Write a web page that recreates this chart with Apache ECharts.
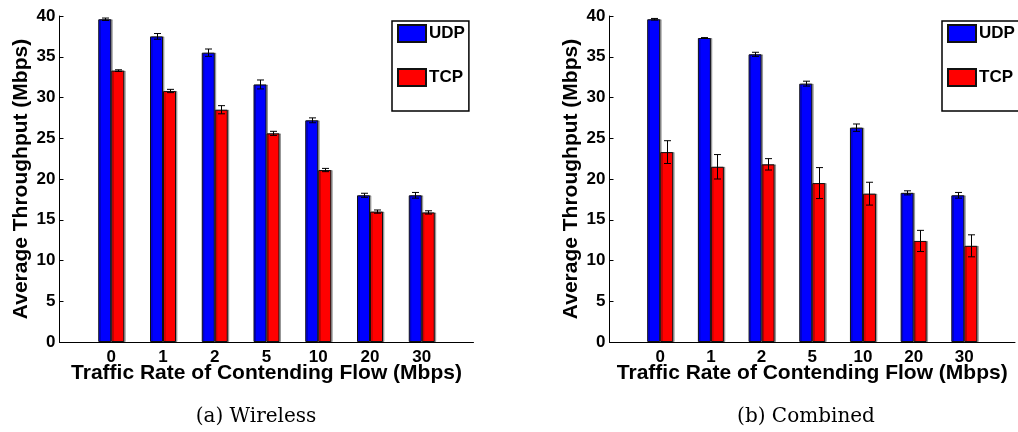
<!DOCTYPE html>
<html><head><meta charset="utf-8">
<script src="https://cdn.jsdelivr.net/npm/echarts@6/dist/echarts.min.js"></script>
<style>html,body{margin:0;padding:0;background:#fff}#c{width:1018px;height:432px}</style>
</head><body><div id="c"></div>
<script>
const categories = ['0','1','2','5','10','20','30'];
const wirelessUDP    = [39.6, 37.5, 35.5, 31.6, 27.2, 18.0, 18.0];
const wirelessUDPErr = [0.15, 0.35, 0.45, 0.55, 0.3, 0.25, 0.35];
const wirelessTCP    = [33.3, 30.8, 28.5, 25.6, 21.1, 16.0, 15.9];
const wirelessTCPErr = [0.1, 0.2, 0.5, 0.25, 0.2, 0.2, 0.2];
const combinedUDP    = [39.6, 37.3, 35.3, 31.7, 26.3, 18.3, 18.0];
const combinedUDPErr = [0.1, 0.05, 0.25, 0.3, 0.45, 0.25, 0.35];
const combinedTCP    = [23.3, 21.5, 21.8, 19.5, 18.2, 12.4, 11.8];
const combinedTCPErr = [1.4, 1.5, 0.7, 1.9, 1.4, 1.3, 1.35];
const yMin = 0, yMax = 40, yStep = 5;
const xTitle = 'Traffic Rate of Contending Flow (Mbps)';
const yTitle = 'Average Throughput (Mbps)';
const captions = ['(a) Wireless', '(b) Combined'];

const FONT = 'Liberation Sans, Arial, sans-serif';
const axisCats = [''].concat(categories, ['']);
const BW = 13;

function errItem(offset) {
  return function (params, api) {
    const x = api.value(0), v = api.value(1), e = api.value(2);
    const lo = api.coord([x, v - e]), hi = api.coord([x, v + e]);
    const cx = Math.round(lo[0] + offset) + 0.5, w = 3.5;
    const st = {stroke: '#000', lineWidth: 1};
    return {type: 'group', children: [
      {type: 'line', shape: {x1: cx, y1: hi[1], x2: cx, y2: lo[1]}, style: st},
      {type: 'line', shape: {x1: cx - w, y1: hi[1], x2: cx + w, y2: hi[1]}, style: st},
      {type: 'line', shape: {x1: cx - w, y1: lo[1], x2: cx + w, y2: lo[1]}, style: st}
    ]};
  };
}

const grids = [], xAxes = [], yAxes = [], series = [], legends = [];
const sets = [
  {udp: wirelessUDP, udpE: wirelessUDPErr, tcp: wirelessTCP, tcpE: wirelessTCPErr, left: 59.5, legLeft: 392},
  {udp: combinedUDP, udpE: combinedUDPErr, tcp: combinedTCP, tcpE: combinedTCPErr, left: 609.5, legLeft: 942}
];
sets.forEach((s, k) => {
  grids.push({left: s.left, top: 16, width: 414, height: 326});
  xAxes.push({
    type: 'category', gridIndex: k, data: axisCats, boundaryGap: false,
    axisLine: {lineStyle: {color: '#000', width: 1}},
    axisTick: {show: false},
    axisLabel: {interval: 0, margin: 7, color: '#000', fontFamily: FONT, fontWeight: 'bold', fontSize: 17},
    name: xTitle, nameLocation: 'middle', nameGap: 21, nameMoveOverlap: false,
    nameTextStyle: {color: '#000', fontFamily: FONT, fontWeight: 'bold', fontSize: 21}
  });
  yAxes.push({
    type: 'value', gridIndex: k, min: yMin, max: yMax, interval: yStep,
    axisLine: {show: true, lineStyle: {color: '#000', width: 1}},
    axisTick: {show: true, inside: true, length: 4, lineStyle: {color: '#000'}},
    splitLine: {show: false},
    axisLabel: {margin: 4, color: '#000', fontFamily: FONT, fontWeight: 'bold', fontSize: 17},
    name: yTitle, nameLocation: 'middle', nameGap: 28, nameMoveOverlap: false,
    nameTextStyle: {color: '#000', fontFamily: FONT, fontWeight: 'bold', fontSize: 21}
  });
  const barStyle = (c) => ({color: c, borderColor: '#111', borderWidth: 1,
    shadowColor: 'rgba(0,0,0,0.3)', shadowOffsetX: 1.5, shadowOffsetY: 0, shadowBlur: 0});
  series.push({
    name: 'UDP', type: 'bar', xAxisIndex: k, yAxisIndex: k, barWidth: BW, barGap: '0%',
    itemStyle: barStyle('#0000FF'), data: s.udp.map((v, i) => [i + 1, v])
  });
  series.push({
    name: 'TCP', type: 'bar', xAxisIndex: k, yAxisIndex: k, barWidth: BW, barGap: '0%',
    itemStyle: barStyle('#FF0000'), data: s.tcp.map((v, i) => [i + 1, v])
  });
  series.push({
    type: 'custom', xAxisIndex: k, yAxisIndex: k, z: 5, renderItem: errItem(-BW / 2),
    encode: {x: 0, y: 1}, data: s.udp.map((v, i) => [i + 1, v, s.udpE[i]])
  });
  series.push({
    type: 'custom', xAxisIndex: k, yAxisIndex: k, z: 5, renderItem: errItem(BW / 2),
    encode: {x: 0, y: 1}, data: s.tcp.map((v, i) => [i + 1, v, s.tcpE[i]])
  });
  legends.push({
    left: s.legLeft, top: 21, orient: 'vertical', data: ['UDP', 'TCP'],
    itemWidth: 28, itemHeight: 17, itemGap: 25, icon: 'rect',
    padding: [3, 4, 24, 5], borderColor: '#000', borderWidth: 1.5, backgroundColor: '#fff',
    textStyle: {color: '#000', fontFamily: FONT, fontWeight: 'bold', fontSize: 17, padding: [0, 0, 0, -2]},
    selectedMode: false
  });
});

const chart = echarts.init(document.getElementById('c'), null, {renderer: 'canvas'});
chart.setOption({
  animation: false,
  backgroundColor: '#fff',
  grid: grids, xAxis: xAxes, yAxis: yAxes, series: series, legend: legends,
  graphic: [
    {type: 'text', x: 256, y: 417, style: {text: captions[0], fill: '#000', font: '20px "DejaVu Serif", serif', textAlign: 'center', textVerticalAlign: 'middle'}},
    {type: 'text', x: 806, y: 417, style: {text: captions[1], fill: '#000', font: '20px "DejaVu Serif", serif', textAlign: 'center', textVerticalAlign: 'middle'}}
  ]
});
</script></body></html>
